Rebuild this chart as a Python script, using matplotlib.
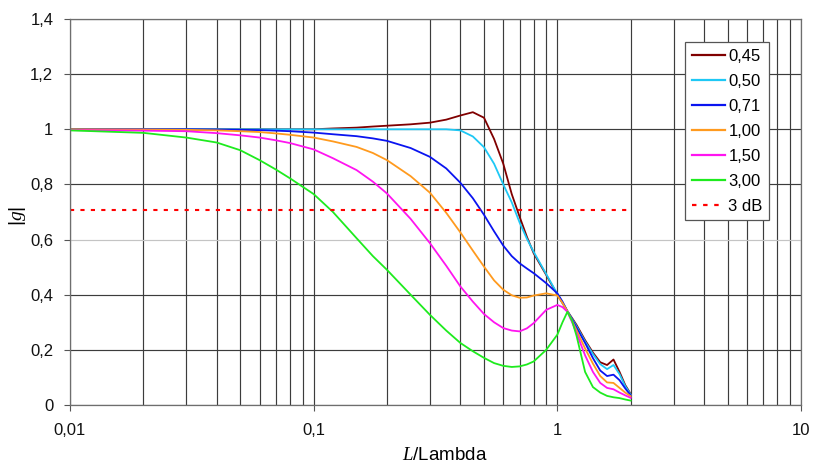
import matplotlib
matplotlib.use("Agg")
import matplotlib.pyplot as plt
from matplotlib.ticker import FixedLocator, LogLocator, NullFormatter

plt.rcParams['font.family'] = ['Liberation Sans', 'DejaVu Sans']
plt.rcParams['mathtext.fontset'] = 'custom'
plt.rcParams['mathtext.it'] = 'Liberation Serif:italic'
plt.rcParams['mathtext.rm'] = 'Liberation Sans'

# ---- data ----
x = [0.01, 0.02, 0.03, 0.04, 0.05, 0.06, 0.07, 0.08, 0.1, 0.12, 0.15, 0.175, 0.2,
     0.25, 0.3, 0.35, 0.4, 0.45, 0.5, 0.55, 0.6, 0.65, 0.7, 0.75, 0.8, 0.9, 1.0,
     1.05, 1.1, 1.15, 1.2, 1.3, 1.4, 1.5, 1.6, 1.7, 1.8, 1.9, 2.0]

g_045 = [1.0, 1.0, 1.0, 1.0, 1.0, 1.0, 1.0, 1.0, 1.0, 1.003, 1.006, 1.01, 1.013,
         1.018, 1.024, 1.035, 1.05, 1.062, 1.042, 0.965, 0.875, 0.765, 0.683, 0.61, 0.55, 0.472, 0.40,
         0.37, 0.34, 0.315, 0.29, 0.235, 0.19, 0.155, 0.145, 0.165, 0.12, 0.072, 0.04]
g_050 = [1.0, 1.0, 1.0, 1.0, 1.0, 1.0, 1.0, 1.0, 1.0, 1.0, 1.0, 1.0, 1.0,
         1.0, 1.0, 1.0, 0.996, 0.974, 0.935, 0.875, 0.80, 0.735, 0.662, 0.603, 0.555, 0.475, 0.403,
         0.37, 0.34, 0.312, 0.285, 0.23, 0.185, 0.148, 0.13, 0.145, 0.112, 0.068, 0.038]
g_071 = [1.0, 1.0, 1.0, 0.999, 0.998, 0.997, 0.995, 0.993, 0.988, 0.982, 0.975, 0.967, 0.958,
         0.932, 0.90, 0.858, 0.806, 0.75, 0.69, 0.63, 0.578, 0.54, 0.514, 0.495, 0.478, 0.442, 0.405,
         0.375, 0.34, 0.31, 0.28, 0.225, 0.17, 0.125, 0.105, 0.11, 0.09, 0.06, 0.035]
g_100 = [1.0, 0.999, 0.998, 0.996, 0.993, 0.99, 0.985, 0.98, 0.97, 0.956, 0.936, 0.914, 0.888,
         0.83, 0.77, 0.697, 0.626, 0.56, 0.502, 0.452, 0.418, 0.398, 0.389, 0.39, 0.397, 0.405, 0.397,
         0.37, 0.34, 0.305, 0.27, 0.205, 0.15, 0.105, 0.082, 0.08, 0.062, 0.045, 0.032]
g_150 = [0.997, 0.995, 0.993, 0.986, 0.978, 0.97, 0.96, 0.95, 0.927, 0.895, 0.852, 0.81, 0.767,
         0.675, 0.587, 0.505, 0.43, 0.375, 0.33, 0.30, 0.279, 0.27, 0.267, 0.278, 0.297, 0.345, 0.363,
         0.355, 0.338, 0.30, 0.26, 0.18, 0.12, 0.08, 0.062, 0.057, 0.045, 0.035, 0.026]
g_300 = [0.996, 0.987, 0.97, 0.952, 0.924, 0.888, 0.854, 0.822, 0.765, 0.70, 0.605, 0.54, 0.49,
         0.40, 0.327, 0.27, 0.225, 0.195, 0.171, 0.152, 0.142, 0.138, 0.14, 0.147, 0.158, 0.20, 0.255,
         0.30, 0.338, 0.305, 0.25, 0.12, 0.065, 0.045, 0.033, 0.028, 0.025, 0.02, 0.016]

db3_x = [0.01, 2.0]
db3_y = [0.707, 0.707]

series_labels = ['0,45', '0,50', '0,71', '1,00', '1,50', '3,00']
series_values = [g_045, g_050, g_071, g_100, g_150, g_300]
series_colors = ['#800000', '#1EC8F5', '#0A14F0', '#FF9A1E', '#FF14F0', '#1EEB1E']

y_ticks = [0, 0.2, 0.4, 0.6, 0.8, 1.0, 1.2, 1.4]
y_ticklabels = ['0', '0,2', '0,4', '0,6', '0,8', '1', '1,2', '1,4']
x_ticks = [0.01, 0.1, 1, 10]
x_ticklabels = ['0,01', '0,1', '1', '10']

# ---- figure ----
fig = plt.figure(figsize=(8.13, 4.63), dpi=100)
ax = fig.add_axes([70 / 813, 58 / 463, 731 / 813, 386 / 463])

grid_col = '#3c3c3c'
ax.set_xscale('log')
ax.set_xlim(0.01, 10)
ax.set_ylim(0, 1.4)

ax.xaxis.set_major_locator(FixedLocator(x_ticks))
ax.set_xticklabels(x_ticklabels)
ax.xaxis.set_minor_locator(LogLocator(base=10, subs=range(2, 10)))
ax.xaxis.set_minor_formatter(NullFormatter())
ax.set_yticks(y_ticks)
ax.set_yticklabels(y_ticklabels)

ax.grid(True, which='both', axis='x', color=grid_col, linewidth=0.85)
ax.grid(True, which='major', axis='y', color=grid_col, linewidth=0.85)
ygl = ax.yaxis.get_gridlines()
ygl[3].set_color('#c4c4c4')
ax.set_axisbelow(True)

for s in ax.spines.values():
    s.set_color('#6e6e6e')
    s.set_linewidth(0.9)

ax.tick_params(axis='both', which='major', labelsize=12, length=4, width=0.8,
               color='#555555', labelcolor='#111111')
ax.tick_params(axis='x', which='major', pad=9)
ax.tick_params(axis='y', which='major', pad=8)
ax.tick_params(axis='x', which='minor', length=0)

for vals, lab, col in zip(series_values, series_labels, series_colors):
    ax.plot(x, vals, color=col, linewidth=1.3, label=lab)
ax.plot(db3_x, db3_y, color='#FF0000', linewidth=1.5, linestyle=(0, (2, 3)), label='3 dB')

ax.set_xlabel(r'$L$/Lambda', fontsize=13.5, va='top')
ax.xaxis.set_label_coords(0.513, -0.108)
ax.set_ylabel(r'|$g$|', fontsize=14, va='center')
ax.yaxis.set_label_coords(-0.072, 0.49)

leg = fig.legend(loc='upper left', bbox_to_anchor=(685 / 813, 1 - 42 / 463),
                 fontsize=12, frameon=True, fancybox=False, framealpha=1,
                 edgecolor='#555555', handlelength=2.0, handletextpad=0.2,
                 labelspacing=0.6, borderpad=0.4, borderaxespad=0)
leg.get_frame().set_linewidth(0.9)
for h in leg.get_lines():
    h.set_linewidth(1.6)

fig.savefig('out.png', dpi=100, facecolor='white')
